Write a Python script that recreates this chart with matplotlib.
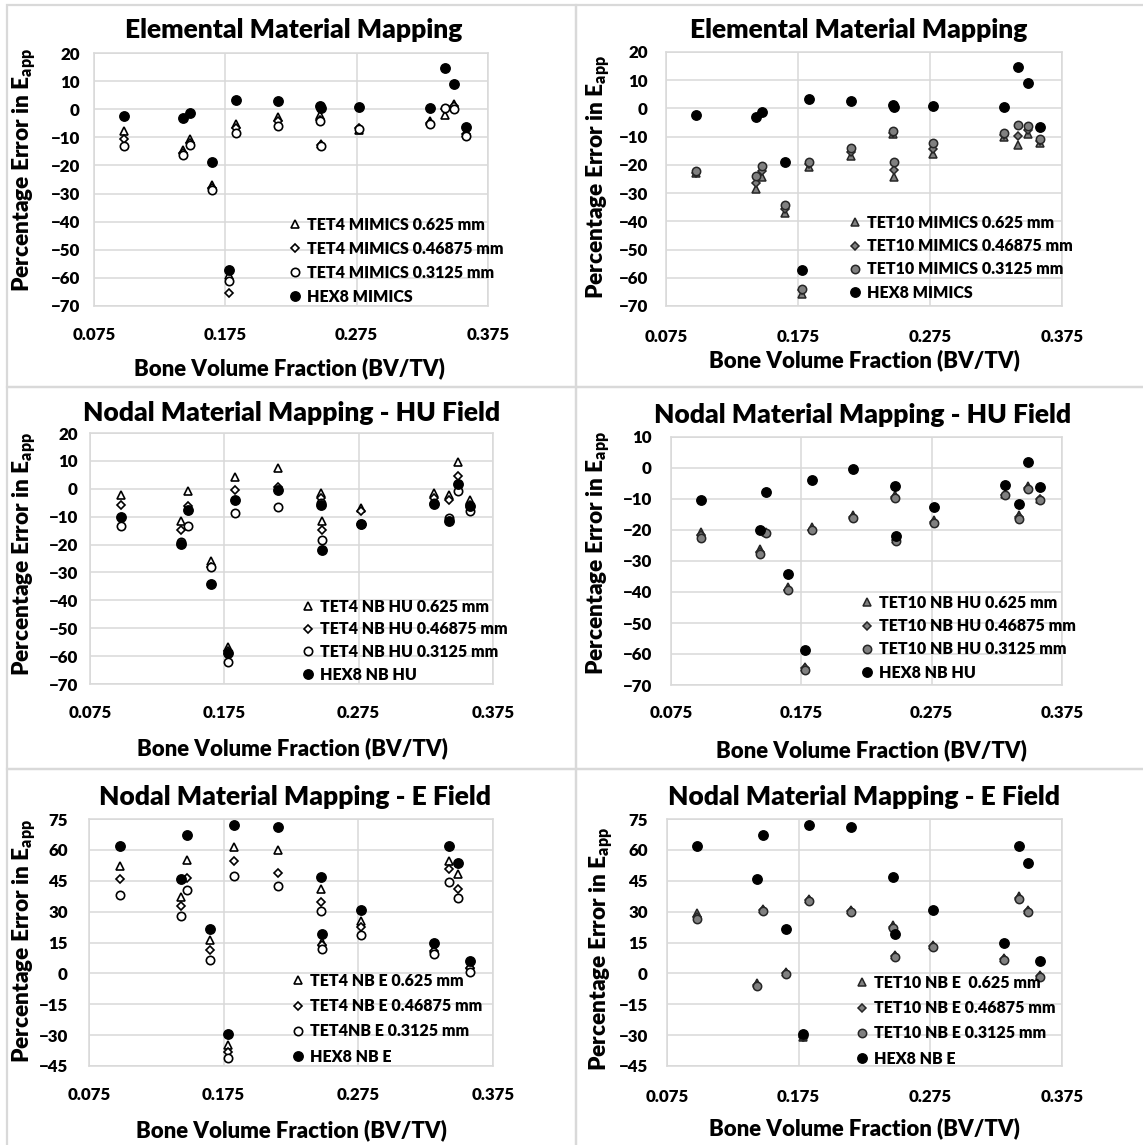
import matplotlib
matplotlib.use("Agg")
import matplotlib.pyplot as plt

plt.rcParams["font.family"] = ["Lato", "DejaVu Sans"]
plt.rcParams["font.weight"] = "heavy"

W, H = 1143, 1145
WEIGHT = "heavy"

# BV/TV of the 14 specimens (two specimens sit at ~0.247)
bvtv = [0.098, 0.143, 0.148, 0.165, 0.178, 0.183, 0.215, 0.247, 0.248, 0.277, 0.331, 0.342, 0.349, 0.358]

# HEX8 reference errors (same in left/right panel of each row)
hex8_mimics = [-2.4, -3.2, -1.4, -18.9, -57.2, 3.4, 2.8, 1.2, 0.4, 0.8, 0.5, 14.7, 9.1, -6.4]
hex8_hu = [-10.2, -19.9, -7.6, -34.2, -58.8, -3.9, -0.3, -5.8, -21.8, -12.7, -5.4, -11.7, 1.8, -6.1]
hex8_e = [62.1, 45.9, 67.0, 21.6, -29.6, 72.3, 71.3, 46.9, 19.0, 30.6, 14.7, 62.1, 53.5, 6.0]

# elemental mapping
tet4_mim_0625 = [-7.9, -14.5, -10.6, -26.9, -59.0, -5.2, -2.8, -2.0, -12.3, -7.3, -4.3, -2.2, 2.0, -8.3]
tet4_mim_046875 = [-10.6, -15.5, -12.0, -28.0, -65.5, -6.7, -4.3, -3.7, -12.9, -6.7, -4.9, 0.0, 1.0, -8.7]
tet4_mim_03125 = [-13.2, -16.2, -12.9, -28.9, -61.1, -8.5, -6.1, -4.3, -13.2, -7.1, -5.2, 0.4, 0.0, -9.5]
tet10_mim_0625 = [-23.0, -28.7, -24.3, -37.2, -65.7, -20.7, -16.8, -9.2, -24.3, -16.2, -10.0, -13.0, -8.9, -12.4]
tet10_mim_046875 = [-22.7, -26.4, -22.2, -35.8, -64.5, -19.7, -15.4, -8.7, -21.7, -14.2, -9.4, -9.8, -7.7, -11.6]
tet10_mim_03125 = [-22.1, -24.0, -20.4, -34.3, -63.8, -18.9, -13.9, -7.9, -18.9, -12.2, -8.6, -5.9, -6.3, -10.7]

# nodal mapping - HU field
tet4_hu_0625 = [-2.2, -11.7, -0.7, -25.9, -56.6, 4.4, 7.6, -1.5, -11.7, -6.9, -1.5, -2.2, 9.5, -4.2]
tet4_hu_046875 = [-5.7, -14.7, -6.3, -27.9, -58.0, -0.4, 0.6, -3.3, -14.7, -8.1, -3.3, -4.2, 4.7, -5.7]
tet4_hu_03125 = [-13.5, -19.0, -13.5, -28.0, -62.0, -8.7, -6.6, -5.1, -18.3, -12.8, -5.1, -10.5, -0.9, -7.9]
tet10_hu_0625 = [-20.6, -26.0, -20.6, -38.3, -64.1, -19.0, -15.2, -8.8, -22.8, -16.9, -8.3, -15.2, -5.9, -9.9]
tet10_hu_046875 = [-21.7, -27.0, -21.1, -39.2, -64.6, -19.9, -15.8, -9.3, -23.1, -17.4, -8.6, -15.8, -6.3, -10.1]
tet10_hu_03125 = [-22.7, -27.6, -21.1, -39.4, -65.0, -20.1, -16.1, -9.7, -23.6, -17.7, -8.8, -16.3, -6.7, -10.2]

# nodal mapping - E field
tet4_e_0625 = [52.4, 37.0, 55.2, 16.4, -34.8, 61.6, 59.7, 41.1, 15.3, 25.4, 12.0, 54.8, 48.4, 3.9]
tet4_e_046875 = [45.9, 32.7, 46.5, 11.2, -38.0, 54.8, 48.9, 34.6, 13.6, 22.5, 10.9, 50.8, 41.1, 2.8]
tet4_e_03125 = [37.9, 27.7, 40.3, 6.4, -41.2, 47.2, 42.4, 30.3, 11.7, 18.5, 9.3, 44.4, 36.7, 0.7]
tet10_e_0625 = [29.1, -4.8, 31.5, 0.5, -31.0, 36.3, 31.0, 23.4, 8.9, 13.7, 7.3, 37.6, 30.7, -0.8]
tet10_e_046875 = [27.5, -5.7, 30.7, 0.0, -30.7, 35.5, 30.4, 22.6, 8.4, 13.2, 6.8, 36.8, 30.2, -1.3]
tet10_e_03125 = [26.2, -6.1, 30.2, -0.5, -30.4, 35.1, 29.9, 22.1, 8.1, 12.9, 6.5, 36.3, 29.9, -1.6]

x_ticks = [0.075, 0.175, 0.275, 0.375]
x_tick_labels = ["0.075", "0.175", "0.275", "0.375"]

titles = ["Elemental Material Mapping", "Elemental Material Mapping",
          "Nodal Material Mapping - HU Field", "Nodal Material Mapping - HU Field",
          "Nodal Material Mapping - E Field", "Nodal Material Mapping - E Field"]

legend_labels = [
    ["TET4 MIMICS 0.625 mm", "TET4 MIMICS 0.46875 mm", "TET4 MIMICS 0.3125 mm", "HEX8 MIMICS"],
    ["TET10 MIMICS 0.625 mm", "TET10 MIMICS 0.46875 mm", "TET10 MIMICS 0.3125 mm", "HEX8 MIMICS"],
    ["TET4 NB HU 0.625 mm", "TET4 NB HU 0.46875 mm", "TET4 NB HU 0.3125 mm", "HEX8 NB HU"],
    ["TET10 NB HU 0.625 mm", "TET10 NB HU 0.46875 mm", "TET10 NB HU 0.3125 mm", "HEX8 NB HU"],
    ["TET4 NB E 0.625 mm", "TET4 NB E 0.46875 mm", "TET4NB E 0.3125 mm", "HEX8 NB E"],
    ["TET10 NB E  0.625 mm", "TET10 NB E 0.46875 mm", "TET10 NB E 0.3125 mm", "HEX8 NB E"],
]

series = [
    [tet4_mim_0625, tet4_mim_046875, tet4_mim_03125, hex8_mimics],
    [tet10_mim_0625, tet10_mim_046875, tet10_mim_03125, hex8_mimics],
    [tet4_hu_0625, tet4_hu_046875, tet4_hu_03125, hex8_hu],
    [tet10_hu_0625, tet10_hu_046875, tet10_hu_03125, hex8_hu],
    [tet4_e_0625, tet4_e_046875, tet4_e_03125, hex8_e],
    [tet10_e_0625, tet10_e_046875, tet10_e_03125, hex8_e],
]

y_ranges = [(-70, 20, 10), (-70, 20, 10), (-70, 20, 10), (-70, 10, 10), (-45, 75, 15), (-45, 75, 15)]

# layout in pixels: plot box (l, r, t, b), title centre, xlabel centre, ylabel centre,
# x tick label centre y, y tick label right edge, legend (marker x, first row y, row step)
layout = [
    dict(box=(94, 488, 53, 306), title=(294, 30), xl=(289, 368), yl=(25, 170), xt=335, yt=80, leg=(295, 224, 24.0)),
    dict(box=(666, 1062, 52, 306), title=(859, 30), xl=(864, 360), yl=(599, 177), xt=337, yt=648, leg=(855, 222, 23.3)),
    dict(box=(90, 493, 433, 684), title=(292, 413), xl=(292, 748), yl=(25, 554), xt=713, yt=78, leg=(308, 606, 22.6)),
    dict(box=(671, 1062, 437, 685), title=(863, 415), xl=(871, 750), yl=(599, 553), xt=713, yt=652, leg=(867, 602, 23.3)),
    dict(box=(89, 493, 819, 1066), title=(295, 797), xl=(291, 1130), yl=(25, 941), xt=1095, yt=68, leg=(298, 980, 25.3)),
    dict(box=(667, 1062, 819, 1066), title=(864, 797), xl=(864, 1128), yl=(602, 949), xt=1097, yt=648, leg=(862, 982, 25.3)),
]

GRID = "#d9d9d9"
open_styles = [
    dict(marker="^", ms=5.8, mfc="white", mec="black", mew=1.2),
    dict(marker="D", ms=4.4, mfc="white", mec="black", mew=1.2),
    dict(marker="o", ms=6.0, mfc="white", mec="black", mew=1.2),
    dict(marker="o", ms=6.8, mfc="black", mec="black", mew=1.0),
]
gray_styles = [
    dict(marker="^", ms=5.8, mfc="#808080", mec="#262626", mew=1.1),
    dict(marker="D", ms=4.4, mfc="#808080", mec="#262626", mew=1.1),
    dict(marker="o", ms=6.0, mfc="#808080", mec="#262626", mew=1.1),
    dict(marker="o", ms=6.8, mfc="black", mec="black", mew=1.0),
]

fig = plt.figure(figsize=(W / 100, H / 100), dpi=100)

# panel frames
for x0, x1, y0, y1 in [(7, 576, 5, 387), (576, 1150, 5, 387), (7, 576, 387, 769),
                       (576, 1150, 387, 769), (7, 576, 769, 1150), (576, 1150, 769, 1150)]:
    fig.add_artist(plt.Rectangle((x0 / W, 1 - y1 / H), (x1 - x0) / W, (y1 - y0) / H,
                                 transform=fig.transFigure, fill=False, ec=GRID, lw=1.6))

for i in range(6):
    lay = layout[i]
    l, r, t, b = lay["box"]
    ax = fig.add_axes([l / W, 1 - b / H, (r - l) / W, (b - t) / H])
    ymin, ymax, ystep = y_ranges[i]
    styles = open_styles if i % 2 == 0 else gray_styles

    handles = []
    for vals, st, lab in zip(series[i], styles, legend_labels[i]):
        h, = ax.plot(bvtv, vals, linestyle="none", label=lab, zorder=3, **st)
        handles.append(h)

    ax.set_xlim(0.075, 0.375)
    ax.set_ylim(ymin, ymax)
    ax.set_xticks(x_ticks)
    ax.set_xticklabels(x_tick_labels, fontweight=WEIGHT)
    ax.set_yticks(list(range(ymin, ymax + 1, ystep)))
    for lab in ax.get_yticklabels():
        lab.set_fontweight(WEIGHT)
    ax.grid(True, color=GRID, lw=1.1)
    ax.set_axisbelow(True)
    for sp in ax.spines.values():
        sp.set_color(GRID)
        sp.set_linewidth(1.1)
    ax.tick_params(length=0, labelsize=12.2)
    ax.tick_params(axis="x", pad=(lay["xt"] - b - 8) * 0.72)
    ax.tick_params(axis="y", pad=(l - lay["yt"]) * 0.72)

    fig.text(lay["title"][0] / W, 1 - lay["title"][1] / H, titles[i],
             ha="center", va="center", fontsize=19, fontweight=WEIGHT)
    fig.text(lay["xl"][0] / W, 1 - lay["xl"][1] / H, "Bone Volume Fraction (BV/TV)",
             ha="center", va="center", fontsize=15.9, fontweight=WEIGHT)
    fig.text(lay["yl"][0] / W, 1 - lay["yl"][1] / H, r"Percentage Error in E$_\mathregular{app}$",
             ha="center", va="center", rotation=90, fontsize=16.3, fontweight=WEIGHT)

    fs = 11.5
    fs_px = fs / 0.72
    hl = 0.75
    mx, my, step = lay["leg"]
    ax_w, ax_h = r - l, b - t
    lx = (mx - hl * fs_px / 2 - l) / ax_w
    ly = 1 - (my - 7 - t) / ax_h
    ax.legend(handles=handles, loc="upper left", bbox_to_anchor=(lx, ly), frameon=False,
              borderpad=0, borderaxespad=0, handlelength=hl, handletextpad=0.35,
              labelspacing=(step - 16.1) / fs_px, prop=dict(size=fs, weight=WEIGHT))

fig.savefig("out.png", dpi=100)
